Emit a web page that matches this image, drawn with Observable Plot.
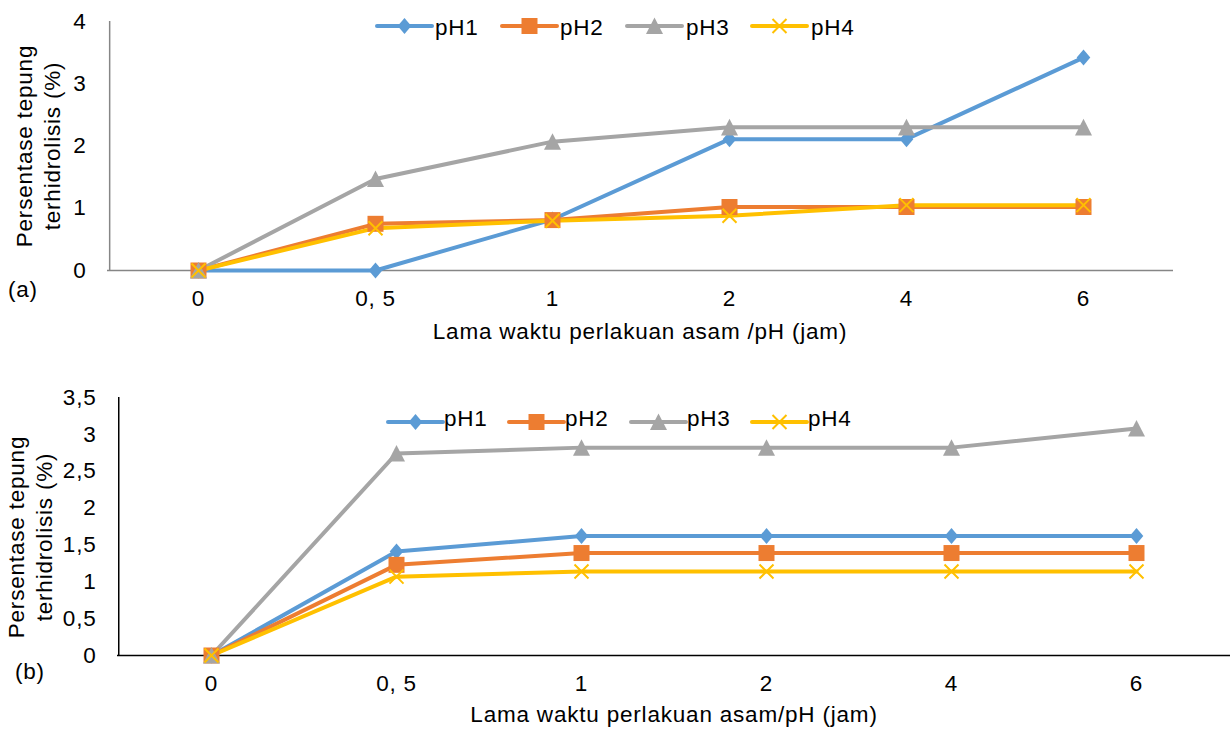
<!DOCTYPE html>
<html><head><meta charset="utf-8">
<script src="https://cdn.jsdelivr.net/npm/d3@7"></script>
<script src="https://cdn.jsdelivr.net/npm/@observablehq/plot@0.6"></script>
<style>
body{margin:0;background:#fff;}
#fig{position:relative;width:1231px;height:729px;font-family:"Liberation Sans",Arial,sans-serif;color:#000;overflow:hidden;background:#fff}
.abs{position:absolute;white-space:nowrap;font-size:22.5px;letter-spacing:0.8px;line-height:22.5px}
.plot{position:absolute;left:0}
</style></head><body><div id="fig"></div>
<script>
// categories (x) — lama waktu (jam)
const times = ["0", "0, 5", "1", "2", "4", "6"];
const seriesNames = ["pH1", "pH2", "pH3", "pH4"];
const colors = ["#5B9BD5", "#ED7D31", "#A5A5A5", "#FFC000"];

// chart (a)
const a_pH1 = [0, 0, 0.82, 2.11, 2.11, 3.42];
const a_pH2 = [0, 0.75, 0.81, 1.02, 1.02, 1.02];
const a_pH3 = [0, 1.47, 2.07, 2.30, 2.30, 2.30];
const a_pH4 = [0, 0.68, 0.80, 0.88, 1.05, 1.05];
const a_yTicks = [0, 1, 2, 3, 4];

// chart (b)
const b_pH1 = [0, 1.41, 1.62, 1.62, 1.62, 1.62];
const b_pH2 = [0, 1.23, 1.39, 1.39, 1.39, 1.39];
const b_pH3 = [0, 2.74, 2.82, 2.82, 2.82, 3.08];
const b_pH4 = [0, 1.07, 1.14, 1.14, 1.14, 1.14];
const b_yTicks = [0, 0.5, 1, 1.5, 2, 2.5, 3, 3.5];

const yTitle = ["Persentase tepung", "terhidrolisis (%)"];
const a_xTitle = "Lama waktu perlakuan asam /pH (jam)";
const b_xTitle = "Lama waktu perlakuan asam/pH (jam)";

// custom marker symbols
const rOf = size => Math.sqrt(size / Math.PI);
const symDiamond = {draw(c, s){const r = rOf(s); c.moveTo(0,-r); c.lineTo(r*0.85,0); c.lineTo(0,r); c.lineTo(-r*0.85,0); c.closePath();}};
const symSquare = {draw(c, s){const r = rOf(s); c.moveTo(-r,-r); c.lineTo(r,-r); c.lineTo(r,r); c.lineTo(-r,r); c.closePath();}};
const symTriangle = {draw(c, s){const r = rOf(s); c.moveTo(0,-r); c.lineTo(r,r*0.95); c.lineTo(-r,r*0.95); c.closePath();}};
const symTimes = {draw(c, s){const r = rOf(s); c.moveTo(-r,-r); c.lineTo(r,r); c.moveTo(-r,r); c.lineTo(r,-r);}};
const markers = [
  {symbol: symDiamond, r: 8, fill: true},
  {symbol: symSquare, r: 8, fill: true},
  {symbol: symTriangle, r: 8.5, fill: true},
  {symbol: symTimes, r: 7, fill: false}
];

const FS = 22.5;
const fig = document.getElementById("fig");

function makeChart(vals, ydom, ticks, W, H, ml, mr, mt, mb, axisColor, fmt) {
  const rows = [];
  seriesNames.forEach((s, i) => vals[i].forEach((v, j) => rows.push({s, t: times[j], v})));
  const step = (W - ml - mr) / times.length;
  const marks = [
    Plot.ruleY([0], {stroke: axisColor, strokeWidth: 1.5}),
    Plot.ruleX([times[0]], {x: d => d, dx: -step / 2, y1: ydom[0], y2: ydom[1], stroke: axisColor, strokeWidth: 1.5}),
    Plot.axisY({ticks, tickSize: 0, tickPadding: 21, tickFormat: fmt, label: null}),
    Plot.axisX({tickSize: 0, tickPadding: 20, label: null})
  ];
  seriesNames.forEach((s, i) => marks.push(Plot.line(rows.filter(r => r.s === s), {x: "t", y: "v", stroke: colors[i], strokeWidth: 4})));
  seriesNames.forEach((s, i) => {
    const m = markers[i];
    marks.push(Plot.dot(rows.filter(r => r.s === s), {
      x: "t", y: "v", symbol: m.symbol, r: m.r,
      fill: m.fill ? colors[i] : "none",
      stroke: m.fill ? "none" : colors[i], strokeWidth: 2
    }));
  });
  return Plot.plot({
    width: W, height: H,
    marginLeft: ml, marginRight: mr, marginTop: mt, marginBottom: mb,
    x: {type: "point", domain: times, padding: 0.5},
    y: {domain: ydom},
    style: {fontFamily: '"Liberation Sans", Arial, sans-serif', fontSize: FS + "px", letterSpacing: "0.8px", color: "#000", background: "transparent", overflow: "visible"},
    marks
  });
}

function addDiv(cls, text, css) {
  const d = document.createElement("div");
  d.className = cls; d.textContent = text;
  Object.assign(d.style, css);
  fig.appendChild(d);
  return d;
}

function addLegend(lineStarts, textStarts, cy, capCy) {
  seriesNames.forEach((s, i) => {
    const w = 55;
    const svg = d3.create("svg").attr("width", w + 20).attr("height", 24)
      .style("position", "absolute").style("left", (lineStarts[i] - 10) + "px").style("top", (cy - 12) + "px");
    svg.append("line").attr("x1", 10).attr("x2", 10 + w).attr("y1", 12).attr("y2", 12)
      .attr("stroke", colors[i]).attr("stroke-width", 4).attr("stroke-linecap", "round");
    const m = markers[i];
    const p = d3.path();
    m.symbol.draw(p, Math.PI * m.r * m.r);
    svg.append("path").attr("d", p.toString()).attr("transform", `translate(${10 + w / 2},12)`)
      .attr("fill", m.fill ? colors[i] : "none").attr("stroke", m.fill ? "none" : colors[i]).attr("stroke-width", 2);
    fig.appendChild(svg.node());
    addDiv("abs", s, {left: textStarts[i] + "px", top: (capCy - 11) + "px"});
  });
}

function addYTitle(cx, cy) {
  const d = document.createElement("div");
  d.className = "abs";
  Object.assign(d.style, {left: (cx - 150) + "px", top: (cy - 28) + "px", width: "300px", height: "56px",
    lineHeight: "28px", textAlign: "center", transform: "rotate(-90deg)", whiteSpace: "normal"});
  d.innerHTML = yTitle[0] + "<br>" + yTitle[1];
  fig.appendChild(d);
}

// chart (a)
const chartA = makeChart([a_pH1, a_pH2, a_pH3, a_pH4], [0, 4], a_yTicks, 1231, 350, 107, 58, 21, 80, "#868686", d => String(d));
chartA.classList.add("plot");
chartA.style.top = "0px";
fig.appendChild(chartA);

// chart (b)
const chartB = makeChart([b_pH1, b_pH2, b_pH3, b_pH4], [0, 3.5], b_yTicks, 1231, 359, 117, 1, 27, 74, "#000000", d => String(d).replace(".", ","));
chartB.classList.add("plot");
chartB.style.top = "370px";
fig.appendChild(chartB);

// titles and labels
addYTitle(39, 146);
addYTitle(31, 537);
addDiv("abs", a_xTitle, {left: "107px", width: "1066px", textAlign: "center", top: "321px"});
addDiv("abs", b_xTitle, {left: "117px", width: "1114px", textAlign: "center", top: "704px"});
addDiv("abs", "(a)", {left: "8px", top: "279px"});
addDiv("abs", "(b)", {left: "15px", top: "661px"});

addLegend([377, 502, 627, 752], [435, 560, 686, 811], 26, 28);
addLegend([388, 509, 631, 752], [444, 565, 687, 808], 422, 419);
</script></body></html>
